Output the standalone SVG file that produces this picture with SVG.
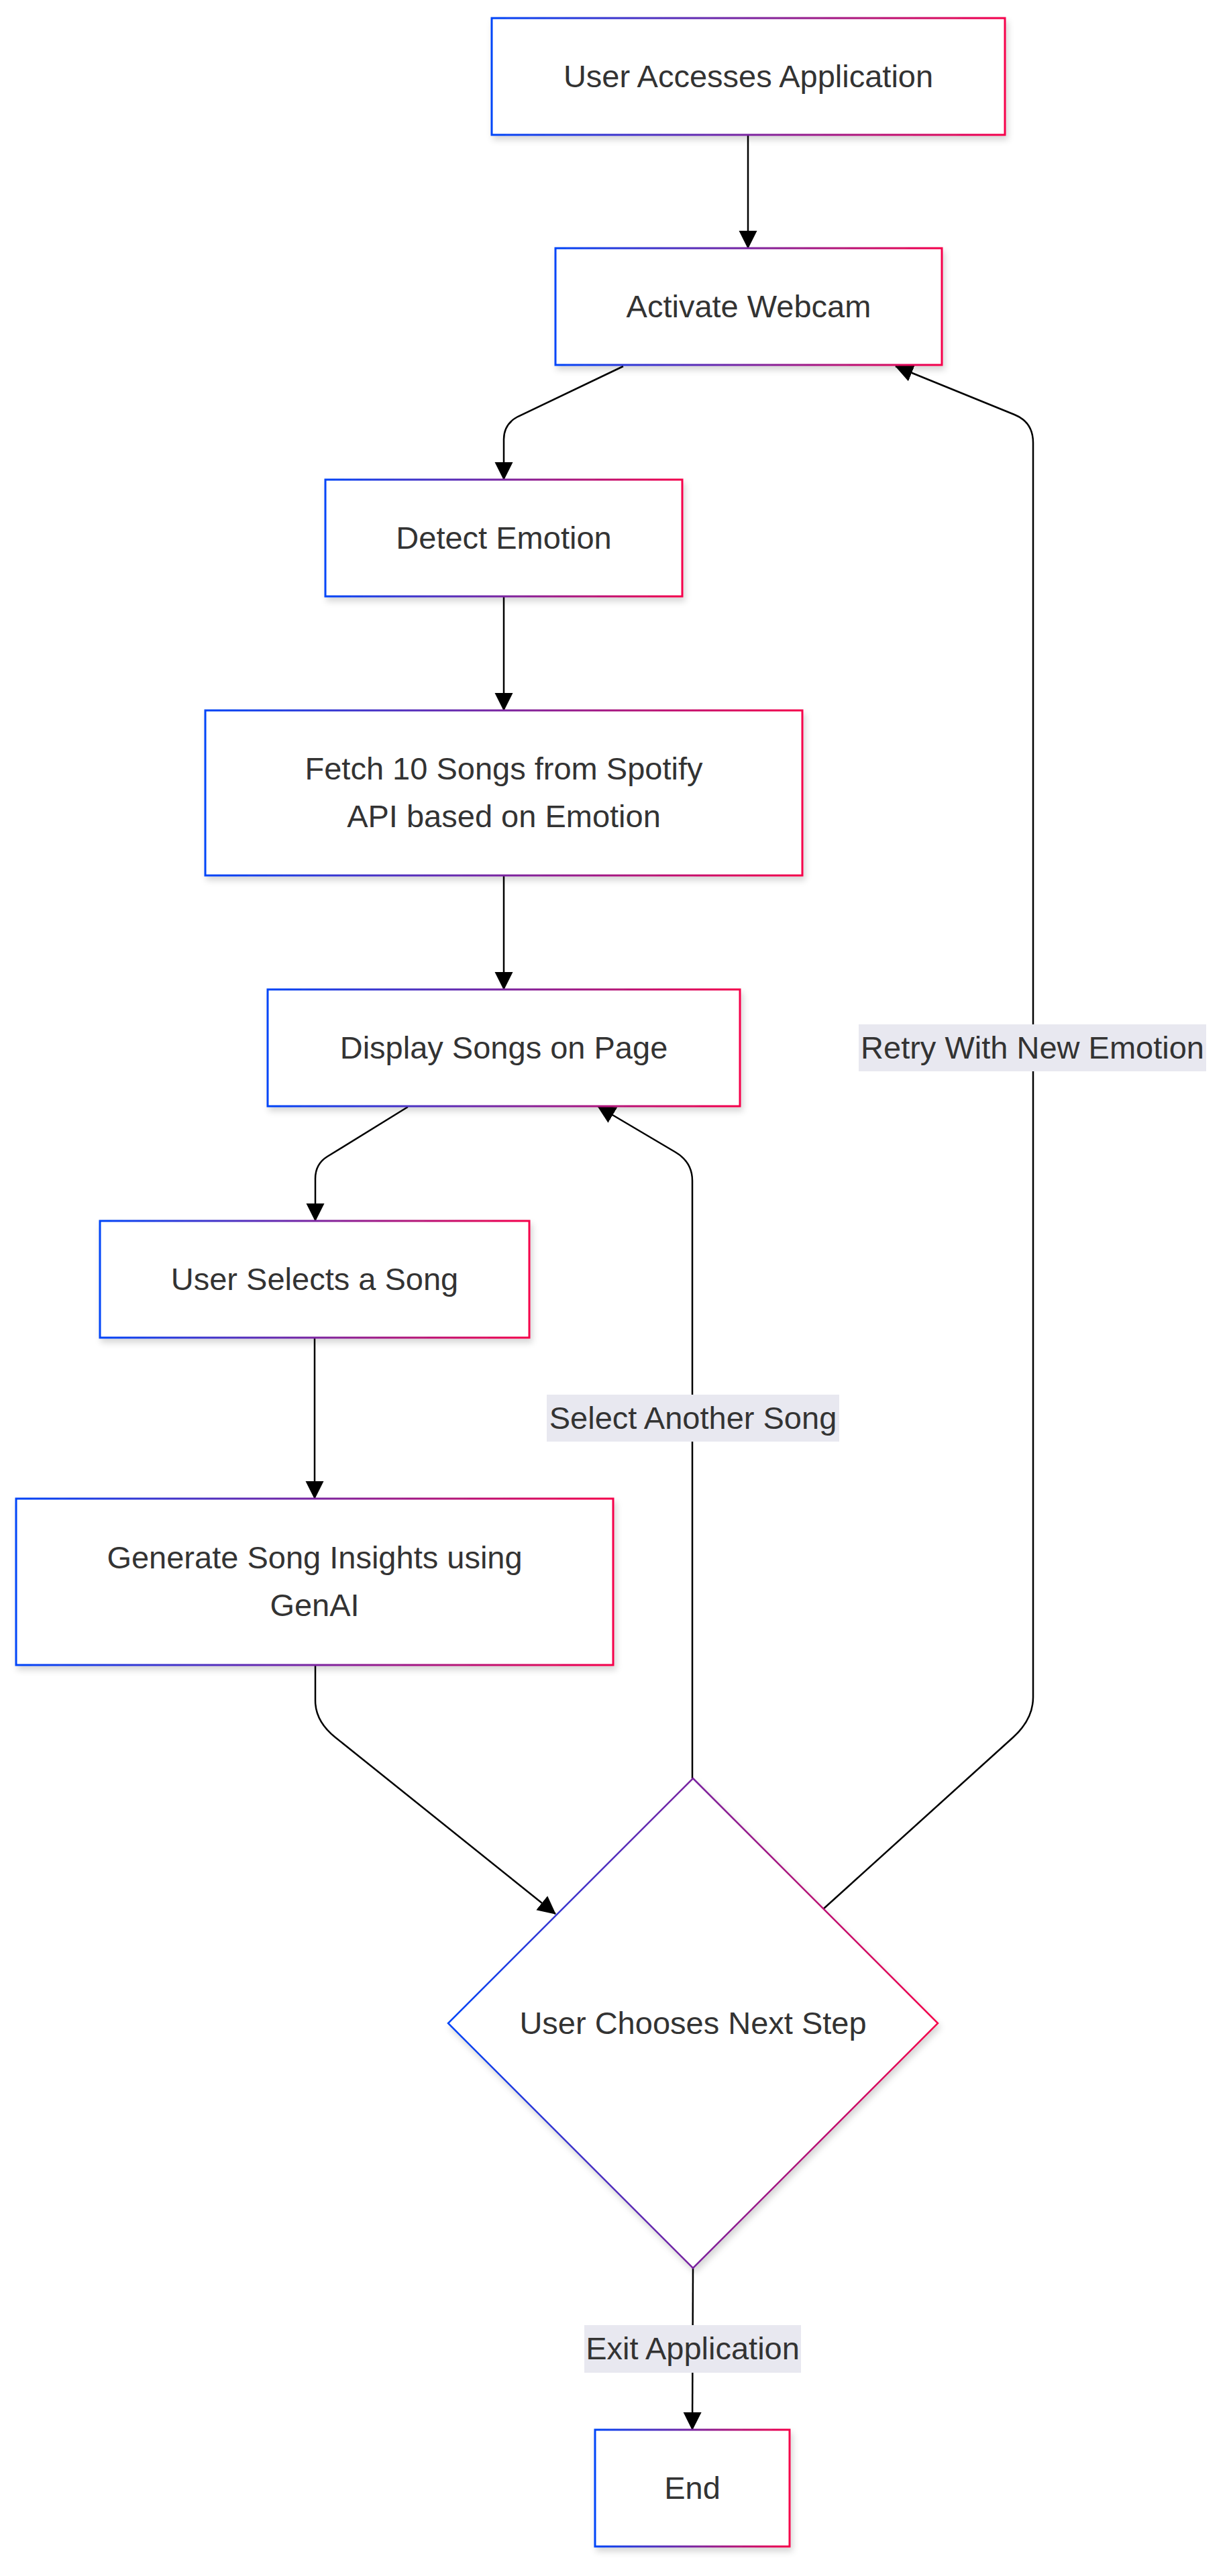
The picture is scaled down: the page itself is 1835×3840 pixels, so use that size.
<svg xmlns="http://www.w3.org/2000/svg" width="1835" height="3840" viewBox="0 0 1835 3840">
<defs>
<linearGradient id="g" x1="0" y1="0" x2="1" y2="0">
<stop offset="0" stop-color="#0044f8"/>
<stop offset="0.5" stop-color="#7a24a0"/>
<stop offset="1" stop-color="#f5004a"/>
</linearGradient>
<filter id="sh" x="-10%" y="-10%" width="125%" height="130%">
<feDropShadow dx="3" dy="6" stdDeviation="5" flood-color="#000" flood-opacity="0.16"/>
</filter>
<marker id="arr" markerUnits="userSpaceOnUse" markerWidth="28" markerHeight="28" refX="26" refY="13.5" orient="auto">
<path d="M0,0 L27,13.5 L0,27 z" fill="#000"/>
</marker>
<style>
.n{fill:#fff;stroke:url(#g);stroke-width:3;filter:url(#sh)}
.d{fill:#fff;stroke:url(#g);stroke-width:2.5;filter:url(#sh)}
.t{font-family:"Liberation Sans",Arial,sans-serif;font-size:47px;fill:#333;text-anchor:middle}
.e{fill:none;stroke:#000;stroke-width:2.5;marker-end:url(#arr)}
.e0{fill:none;stroke:#000;stroke-width:2.5}
.lb{fill:#e8e8f0}
</style>
</defs>
<rect width="1835" height="3840" fill="#fff"/>
<g id="connectors">
<path class="e" d="M1115,201 L1115,370"/>
<path class="e" d="M929,546 L772,621 Q751,632 751,655 L751,715"/>
<path class="e" d="M751,889 L751,1059"/>
<path class="e" d="M751,1305 L751,1475"/>
<path class="e" d="M608,1650 L488,1724 Q470,1735 470,1757 L470,1820"/>
<path class="e" d="M469,1994 L469,2234"/>
<path class="e" d="M470,2482 L470,2535 Q470,2566 500,2590 L828,2853"/>
<path class="e" d="M1032,2651 L1032,1760 Q1032,1732 1006,1717 L891,1649"/>
<path class="e" d="M1228,2845 L1510,2590 Q1540,2563 1540,2530 L1540,660 Q1540,629 1512,618 L1335,546"/>
<path class="e" d="M1033,3381 L1032,3622"/>
<g id="label-retry">
<rect class="lb" x="1280" y="1527" width="518" height="70"/>
<text class="t" x="1539" y="1578">Retry With New Emotion</text>
</g>
<g id="label-select">
<rect class="lb" x="815" y="2079" width="436" height="70"/>
<text class="t" x="1033" y="2130">Select Another Song</text>
</g>
<g id="label-exit">
<rect class="lb" x="871" y="3466" width="323" height="71"/>
<text class="t" x="1032.5" y="3517">Exit Application</text>
</g>
</g>
<g id="A">
<rect class="n" x="733" y="27" width="765" height="174"/>
<text class="t" x="1115.5" y="130">User Accesses Application</text>
</g>
<g id="B">
<rect class="n" x="828" y="370" width="576" height="174"/>
<text class="t" x="1116" y="473">Activate Webcam</text>
</g>
<g id="C">
<rect class="n" x="485" y="715" width="532" height="174"/>
<text class="t" x="751" y="818">Detect Emotion</text>
</g>
<g id="D">
<rect class="n" x="306" y="1059" width="890" height="246"/>
<text class="t" x="751" y="1162">Fetch 10 Songs from Spotify</text>
<text class="t" x="751" y="1233">API based on Emotion</text>
</g>
<g id="E">
<rect class="n" x="399" y="1475" width="704" height="174"/>
<text class="t" x="751" y="1578">Display Songs on Page</text>
</g>
<g id="F">
<rect class="n" x="149" y="1820" width="640" height="174"/>
<text class="t" x="469" y="1923">User Selects a Song</text>
</g>
<g id="G">
<rect class="n" x="24" y="2234" width="890" height="248"/>
<text class="t" x="469" y="2338">Generate Song Insights using</text>
<text class="t" x="469" y="2409">GenAI</text>
</g>
<g id="H">
<polygon class="d" points="1033,2651 1398,3016 1033,3381 668,3016"/>
<text class="t" x="1033" y="3032">User Chooses Next Step</text>
</g>
<g id="I">
<rect class="n" x="887" y="3622" width="290" height="174"/>
<text class="t" x="1032" y="3725">End</text>
</g>
</svg>
